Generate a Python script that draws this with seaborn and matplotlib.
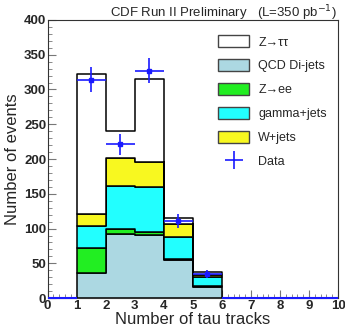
import numpy as np
import pandas as pd
import matplotlib
matplotlib.use("Agg")
import matplotlib.pyplot as plt
from matplotlib.patches import Patch
from matplotlib.lines import Line2D
from matplotlib.ticker import MultipleLocator
import seaborn as sns

# bin centres (number of tau tracks) and per-process contributions
centers = [1.5, 2.5, 3.5, 4.5, 5.5]
qcd = [35.5, 91.5, 90.5, 55.5, 16.5]
zee = [36.0, 8.0, 4.0, 1.0, 0.5]
gamma = [31.5, 61.5, 66.0, 32.0, 13.5]
wjets = [18.0, 41.0, 35.0, 17.5, 2.5]
ztt = [201.0, 38.5, 120.0, 9.5, 4.0]

# data points
data_x = [0.5, 1.5, 2.5, 3.5, 4.5, 5.5, 6.5, 7.5, 8.5, 9.5]
data_y = [0, 314, 221, 327, 111, 35, 0, 0, 0, 0]
data_err = [0, 18, 15, 18, 10, 6, 0, 0, 0, 0]

procs = ["Z→ττ", "W+jets", "gamma+jets", "Z→ee", "QCD Di-jets"]
colors = {"Z→ττ": "white", "W+jets": "#f8f820", "gamma+jets": "#22ffff",
          "Z→ee": "#22ee22", "QCD Di-jets": "#acd8e2"}

rows = []
for name, vals in zip(procs, [ztt, wjets, gamma, zee, qcd]):
    for c, v in zip(centers, vals):
        rows.append({"tracks": c, "events": v, "proc": name})
df = pd.DataFrame(rows)

sns.set_style("ticks")
plt.rcParams["font.family"] = ["Liberation Sans", "DejaVu Sans"]

fig = plt.figure(figsize=(3.45, 3.32), dpi=100)
ax = fig.add_axes([0.138, 0.102, 0.842, 0.838])

sns.histplot(data=df, x="tracks", weights="events", hue="proc", hue_order=procs,
             multiple="stack", element="step", bins=[1, 2, 3, 4, 5, 6],
             palette=colors, alpha=1, edgecolor="black", linewidth=1.1,
             legend=False, ax=ax)

blue = "#1a1aff"
dx = np.array(data_x)
dy = np.array(data_y)
de = np.array(data_err)
nz = dy > 0
ax.errorbar(dx[~nz], dy[~nz], xerr=0.5, fmt="none", ecolor=blue,
            elinewidth=1.5, capsize=0, zorder=5, clip_on=False)
ax.errorbar(dx[nz], dy[nz], xerr=0.5, yerr=de[nz], fmt="s", color=blue,
            ms=2.5, elinewidth=1.2, capsize=0, zorder=5)

ax.set_xlim(0, 10)
ax.set_ylim(0, 400)
ax.xaxis.set_major_locator(MultipleLocator(1))
ax.xaxis.set_minor_locator(MultipleLocator(0.2))
ax.yaxis.set_major_locator(MultipleLocator(50))
ax.yaxis.set_minor_locator(MultipleLocator(10))
ax.tick_params(which="both", direction="in", color="#777777", labelsize=9.5, pad=1)
ax.tick_params(which="major", length=6)
ax.tick_params(which="minor", length=3)
for lab in ax.get_xticklabels() + ax.get_yticklabels():
    lab.set_fontweight("bold")
for s in ax.spines.values():
    s.set_linewidth(0.8)
    s.set_color("#333333")

ax.set_xlabel("Number of tau tracks", fontsize=12, labelpad=0)
ax.set_ylabel("Number of events", fontsize=12, labelpad=3)
fig.text(0.975, 1 - 17 / 332, "CDF Run II Preliminary   (L=350 pb$^{-1}$)",
         ha="right", va="baseline", fontsize=9.5)

order = ["Z→ττ", "QCD Di-jets", "Z→ee", "gamma+jets", "W+jets"]
handles = [Patch(facecolor=colors[p], edgecolor="#444444", linewidth=1) for p in order]
handles.append(Line2D([], [], ls="none", marker="+", ms=13, mew=1.2, color=blue))
ax.legend(handles, order + ["Data"], loc="upper right", frameon=False, fontsize=9,
          handlelength=2.5, handleheight=1.1, labelspacing=0.85, handletextpad=0.7,
          bbox_to_anchor=(1.0, 0.985))

fig.savefig("out.png", dpi=100)
